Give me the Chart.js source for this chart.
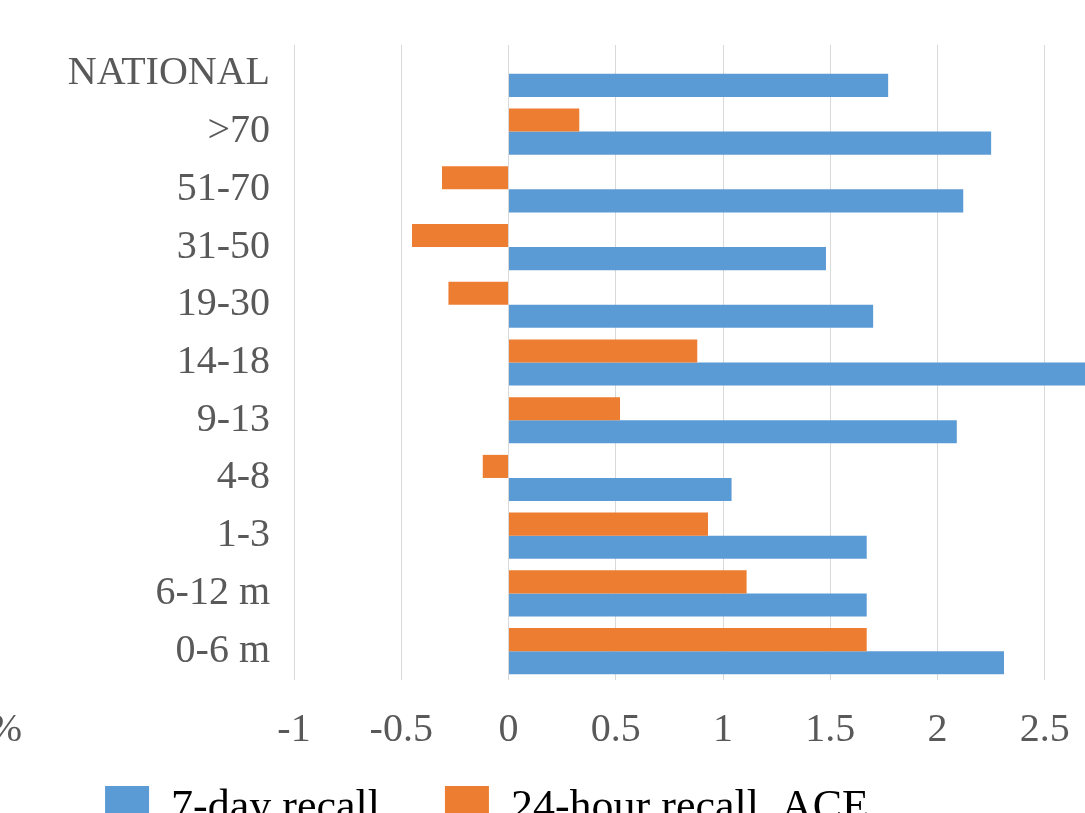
<!DOCTYPE html>
<html>
<head>
<meta charset="utf-8">
<script src="https://cdn.jsdelivr.net/npm/chart.js@4.4.0/dist/chart.umd.min.js"></script>
<style>
  html, body { margin: 0; padding: 0; overflow: hidden; background: #fff; width: 1085px; height: 813px; }
  #chart { position: absolute; left: -206px; top: 0; }
</style>
</head>
<body>
<canvas id="chart" width="1394" height="845"></canvas>
<script>
const ageGroups = ['NATIONAL', '>70', '51-70', '31-50', '19-30', '14-18', '9-13', '4-8', '1-3', '6-12 m', '0-6 m'];
const recall7day = [1.77, 2.25, 2.12, 1.48, 1.70, 2.85, 2.09, 1.04, 1.67, 1.67, 2.31];
const recall24hAce = [null, 0.33, -0.31, -0.45, -0.28, 0.88, 0.52, -0.12, 0.93, 1.11, 1.67];
const xTicks = [-1, -0.5, 0, 0.5, 1, 1.5, 2, 2.5, 3];

const serif = '"Liberation Serif", "Times New Roman", serif';

// the "%" that sticks out at the left of the axis line
const percentMark = {
  id: 'percentMark',
  afterDraw(chart) {
    const ctx = chart.ctx;
    ctx.save();
    ctx.font = '40px ' + serif;
    ctx.fillStyle = '#595959';
    ctx.textAlign = 'right';
    ctx.textBaseline = 'middle';
    ctx.fillText('%', 228, chart.chartArea.bottom + 50);
    ctx.restore();
  }
};

new Chart(document.getElementById('chart'), {
  type: 'bar',
  data: {
    labels: ageGroups,
    datasets: [
      {
        label: '24-hour recall, ACE',
        data: recall24hAce,
        backgroundColor: '#ED7D31',
        categoryPercentage: 0.8,
        barPercentage: 1
      },
      {
        label: '7-day recall',
        data: recall7day,
        backgroundColor: '#5B9BD5',
        categoryPercentage: 0.8,
        barPercentage: 1
      }
    ]
  },
  options: {
    indexAxis: 'y',
    responsive: false,
    animation: false,
    layout: { padding: { top: 45, right: 8, left: 0, bottom: 5 } },
    scales: {
      x: {
        min: -1,
        max: 3,
        afterBuildTicks: scale => { scale.ticks = xTicks.map(v => ({ value: v })); },
        afterFit: scale => { scale.height = 96; },
        grid: { color: '#D9D9D9', lineWidth: 1, drawTicks: false },
        border: { display: false },
        ticks: {
          padding: 26,
          color: '#595959',
          font: { family: serif, size: 40 },
          callback: v => String(v)
        }
      },
      y: {
        afterFit: scale => { scale.width = 500; },
        grid: { display: false },
        border: { display: false },
        ticks: {
          padding: 16,
          color: '#595959',
          font: { family: serif, size: 40 }
        }
      }
    },
    plugins: {
      legend: {
        position: 'bottom',
        reverse: true,
        labels: {
          boxWidth: 44,
          boxHeight: 44,
          padding: 10,
          color: '#000',
          font: { family: serif, size: 44 },
          // wider gap after the first entry, like the original legend
          generateLabels: chart => Chart.defaults.plugins.legend.labels.generateLabels(chart).map(item => {
            if (item.datasetIndex === 1) item.text += '\u00A0'.repeat(5);
            return item;
          })
        }
      },
      tooltip: { enabled: false }
    }
  },
  plugins: [percentMark]
});
</script>
</body>
</html>
